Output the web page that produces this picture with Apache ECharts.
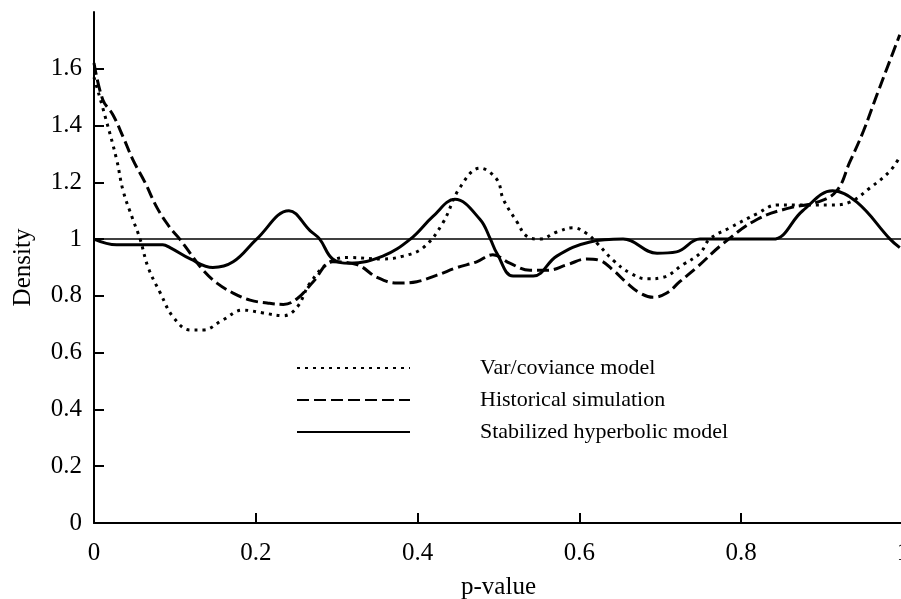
<!DOCTYPE html>
<html><head><meta charset="utf-8">
<script src="https://cdn.jsdelivr.net/npm/echarts@6/dist/echarts.min.js"></script>
<style>html,body{margin:0;padding:0;background:#fff}#c{width:901px;height:599px}</style>
</head><body><div id="c"></div>
<script>
// Var/coviance model (dotted)
const varX = [0,0.014,0.028,0.036,0.048,0.057,0.067,0.082,0.098,0.119,0.135,0.159,0.184,0.209,0.234,0.251,0.267,0.292,0.316,0.357,0.382,0.407,0.431,0.452,0.477,0.498,0.506,0.523,0.535,0.551,0.572,0.592,0.609,0.622,0.642,0.663,0.684,0.703,0.728,0.749,0.761,0.786,0.82,0.844,0.885,0.91,0.934,0.959,0.984,0.996];
const varY = [1.57,1.43,1.28,1.17,1.07,1.0,0.90,0.81,0.725,0.68,0.68,0.715,0.75,0.74,0.73,0.76,0.845,0.92,0.935,0.93,0.94,0.97,1.056,1.18,1.25,1.21,1.14,1.06,1.01,1.0,1.025,1.04,1.02,0.985,0.925,0.88,0.86,0.865,0.91,0.95,1.0,1.04,1.09,1.12,1.12,1.12,1.13,1.18,1.24,1.29];
// Historical simulation (dashed)
const histX = [0,0.011,0.023,0.036,0.048,0.063,0.078,0.094,0.106,0.119,0.135,0.152,0.172,0.193,0.214,0.234,0.251,0.271,0.295,0.325,0.35,0.375,0.399,0.424,0.449,0.473,0.493,0.514,0.539,0.56,0.585,0.609,0.625,0.642,0.659,0.675,0.691,0.708,0.724,0.745,0.778,0.82,0.86,0.894,0.918,0.934,0.951,0.968,0.984,0.996];
const histY = [1.62,1.49,1.44,1.36,1.28,1.20,1.11,1.04,1.0,0.95,0.89,0.845,0.81,0.785,0.775,0.77,0.79,0.85,0.92,0.91,0.865,0.845,0.85,0.873,0.90,0.92,0.945,0.915,0.89,0.89,0.91,0.93,0.925,0.89,0.845,0.81,0.795,0.81,0.85,0.90,0.985,1.07,1.11,1.13,1.17,1.27,1.38,1.51,1.63,1.72];
// Stabilized hyperbolic model (solid)
const stabX = [0,0.028,0.085,0.094,0.119,0.147,0.172,0.201,0.241,0.267,0.279,0.295,0.316,0.357,0.391,0.419,0.446,0.477,0.49,0.498,0.518,0.543,0.572,0.613,0.654,0.696,0.72,0.749,0.786,0.839,0.876,0.913,0.943,0.984,0.996];
const stabY = [1.0,0.98,0.98,0.97,0.93,0.90,0.92,1.0,1.10,1.03,1.0,0.93,0.915,0.94,1.0,1.08,1.14,1.07,1.0,0.95,0.87,0.87,0.94,0.99,1.0,0.95,0.955,1.0,1.0,1.0,1.10,1.17,1.13,1.0,0.97];
const seriesNames = ['Var/coviance model','Historical simulation','Stabilized hyperbolic model'];
const yTicks = [0,0.2,0.4,0.6,0.8,1,1.2,1.4,1.6];
const xTicks = [0,0.2,0.4,0.6,0.8,1];
const refLevel = 1;

const zip = (xs, ys) => xs.map((x, i) => [x, ys[i]]);
const font = 'Liberation Serif, Times New Roman, serif';
const chart = echarts.init(document.getElementById('c'), null, {renderer: 'canvas'});
chart.setOption({
  animation: false,
  backgroundColor: '#fff',
  grid: {left: 94, right: -2, top: 12, bottom: 76, containLabel: false, outerBoundsMode: 'none'},
  xAxis: {
    type: 'value', min: 0, max: 1, interval: 0.2,
    name: 'p-value', nameLocation: 'middle', nameGap: 52,
    nameTextStyle: {fontFamily: font, fontSize: 25, color: '#000'},
    axisLine: {lineStyle: {color: '#000', width: 2}},
    axisTick: {inside: true, length: 10, lineStyle: {color: '#000', width: 2}, customValues: xTicks},
    axisLabel: {customValues: xTicks, fontFamily: font, fontSize: 25, color: '#000', margin: 18},
    splitLine: {show: false}
  },
  yAxis: {
    type: 'value', min: 0, max: 1.8,
    name: 'Density', nameLocation: 'middle', nameGap: 58, nameRotate: 90,
    nameTextStyle: {fontFamily: font, fontSize: 25, color: '#000'},
    axisLine: {lineStyle: {color: '#000', width: 2}},
    axisTick: {inside: true, length: 10, lineStyle: {color: '#000', width: 2}, customValues: yTicks},
    axisLabel: {customValues: yTicks, fontFamily: font, fontSize: 25, color: '#000', margin: 12},
    splitLine: {show: false}
  },
  legend: {
    orient: 'vertical', left: 291, top: 352,
    itemWidth: 113, itemHeight: 14, itemGap: 10,
    data: seriesNames,
    itemStyle: {opacity: 0},
    textStyle: {fontFamily: font, fontSize: 22, color: '#000', padding: [0, 0, 0, 65], lineHeight: 22}
  },
  series: [
    {name: seriesNames[0], type: 'line', data: zip(varX, varY), smooth: 0.4, symbol: 'none',
     lineStyle: {color: '#000', width: 3, type: [3, 5]}, itemStyle: {color: '#000'}},
    {name: seriesNames[1], type: 'line', data: zip(histX, histY), smooth: 0.4, symbol: 'none',
     lineStyle: {color: '#000', width: 3, type: [12, 5]}, itemStyle: {color: '#000'}},
    {name: seriesNames[2], type: 'line', data: zip(stabX, stabY), smooth: 0.4, symbol: 'none',
     lineStyle: {color: '#000', width: 3, type: 'solid'}, itemStyle: {color: '#000'},
     markLine: {silent: true, symbol: 'none', label: {show: false},
       lineStyle: {color: '#000', width: 1.5, type: 'solid'}, data: [{yAxis: refLevel}]}}
  ]
});
</script></body></html>
